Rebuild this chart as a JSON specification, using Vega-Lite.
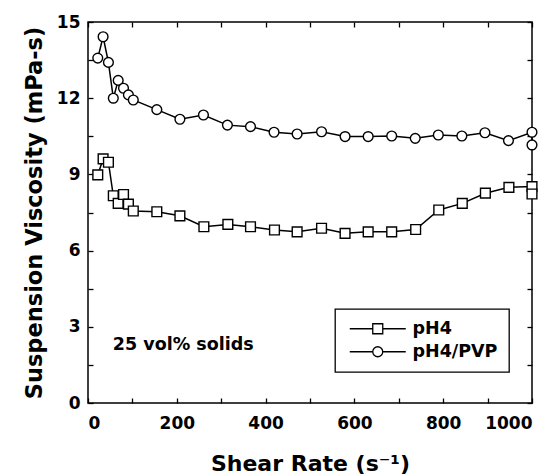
{
  "$schema": "https://vega.github.io/schema/vega-lite/v6.json",
  "width": 444,
  "height": 381,
  "autosize": "none",
  "padding": {"left": 88, "top": 22, "right": 27, "bottom": 72},
  "background": "white",
  "config": {
    "view": {"stroke": "black", "strokeWidth": 1.5},
    "axis": {
      "domain": false, "grid": false,
      "tickColor": "black", "tickWidth": 1.3, "tickSize": -5,
      "labelColor": "black", "labelFont": "DejaVu Sans", "labelFontWeight": "bold", "labelFontSize": 17,
      "titleColor": "black", "titleFont": "DejaVu Sans", "titleFontWeight": "bold", "titleFontSize": 22
    },
    "legend": {"strokeWidth": 1.3}
  },
  "data": {
    "values": [
      {"series": "pH4/PVP", "i": 1, "x": 22, "y": 13.58},
      {"series": "pH4/PVP", "i": 2, "x": 34, "y": 14.42},
      {"series": "pH4/PVP", "i": 3, "x": 46, "y": 13.41},
      {"series": "pH4/PVP", "i": 4, "x": 57, "y": 12.0},
      {"series": "pH4/PVP", "i": 5, "x": 68, "y": 12.7},
      {"series": "pH4/PVP", "i": 6, "x": 80, "y": 12.39},
      {"series": "pH4/PVP", "i": 7, "x": 91, "y": 12.13},
      {"series": "pH4/PVP", "i": 8, "x": 102, "y": 11.93},
      {"series": "pH4/PVP", "i": 9, "x": 155, "y": 11.55},
      {"series": "pH4/PVP", "i": 10, "x": 207, "y": 11.17},
      {"series": "pH4/PVP", "i": 11, "x": 260, "y": 11.34},
      {"series": "pH4/PVP", "i": 12, "x": 314, "y": 10.94},
      {"series": "pH4/PVP", "i": 13, "x": 366, "y": 10.88},
      {"series": "pH4/PVP", "i": 14, "x": 419, "y": 10.66},
      {"series": "pH4/PVP", "i": 15, "x": 471, "y": 10.59},
      {"series": "pH4/PVP", "i": 16, "x": 526, "y": 10.68},
      {"series": "pH4/PVP", "i": 17, "x": 579, "y": 10.49},
      {"series": "pH4/PVP", "i": 18, "x": 631, "y": 10.49},
      {"series": "pH4/PVP", "i": 19, "x": 684, "y": 10.51},
      {"series": "pH4/PVP", "i": 20, "x": 737, "y": 10.42},
      {"series": "pH4/PVP", "i": 21, "x": 789, "y": 10.55},
      {"series": "pH4/PVP", "i": 22, "x": 842, "y": 10.51},
      {"series": "pH4/PVP", "i": 23, "x": 894, "y": 10.64},
      {"series": "pH4/PVP", "i": 24, "x": 947, "y": 10.33},
      {"series": "pH4/PVP", "i": 25, "x": 1000, "y": 10.66},
      {"series": "pH4/PVP", "i": 26, "x": 1000, "y": 10.16},
      {"series": "pH4", "i": 1, "x": 22, "y": 8.98},
      {"series": "pH4", "i": 2, "x": 34, "y": 9.61},
      {"series": "pH4", "i": 3, "x": 46, "y": 9.48},
      {"series": "pH4", "i": 4, "x": 57, "y": 8.16},
      {"series": "pH4", "i": 5, "x": 68, "y": 7.86},
      {"series": "pH4", "i": 6, "x": 80, "y": 8.21},
      {"series": "pH4", "i": 7, "x": 91, "y": 7.83},
      {"series": "pH4", "i": 8, "x": 102, "y": 7.56},
      {"series": "pH4", "i": 9, "x": 155, "y": 7.53},
      {"series": "pH4", "i": 10, "x": 207, "y": 7.37},
      {"series": "pH4", "i": 11, "x": 261, "y": 6.94},
      {"series": "pH4", "i": 12, "x": 315, "y": 7.03},
      {"series": "pH4", "i": 13, "x": 366, "y": 6.94},
      {"series": "pH4", "i": 14, "x": 420, "y": 6.81},
      {"series": "pH4", "i": 15, "x": 471, "y": 6.74},
      {"series": "pH4", "i": 16, "x": 526, "y": 6.88},
      {"series": "pH4", "i": 17, "x": 579, "y": 6.68},
      {"series": "pH4", "i": 18, "x": 631, "y": 6.74},
      {"series": "pH4", "i": 19, "x": 684, "y": 6.74},
      {"series": "pH4", "i": 20, "x": 738, "y": 6.83},
      {"series": "pH4", "i": 21, "x": 790, "y": 7.6},
      {"series": "pH4", "i": 22, "x": 843, "y": 7.86},
      {"series": "pH4", "i": 23, "x": 895, "y": 8.26},
      {"series": "pH4", "i": 24, "x": 948, "y": 8.49},
      {"series": "pH4", "i": 25, "x": 1000, "y": 8.52},
      {"series": "pH4", "i": 26, "x": 1000, "y": 8.23}
    ]
  },
  "layer": [
    {
      "mark": {"type": "line", "color": "black", "strokeWidth": 1.5},
      "encoding": {
        "x": {
          "field": "x", "type": "quantitative",
          "scale": {"domain": [0, 1000], "nice": false, "zero": false},
          "axis": {
            "orient": "bottom",
            "values": [0, 100, 200, 300, 400, 500, 600, 700, 800, 900, 1000],
            "format": "d",
            "labelExpr": "datum.value % 200 === 0 ? datum.label : ''",
            "labelPadding": 17,
            "title": "Shear Rate (s⁻¹)",
            "titlePadding": 22
          }
        },
        "y": {
          "field": "y", "type": "quantitative",
          "scale": {"domain": [0, 15], "nice": false, "zero": false},
          "axis": {
            "orient": "left",
            "values": [0, 1.5, 3, 4.5, 6, 7.5, 9, 10.5, 12, 13.5, 15],
            "labelExpr": "datum.value % 3 === 0 ? datum.label : ''",
            "labelPadding": 13,
            "title": "Suspension Viscosity (mPa-s)",
            "titleFontSize": 22.5,
            "titlePadding": 10
          }
        },
        "detail": {"field": "series"},
        "order": {"field": "i"}
      }
    },
    {
      "mark": {"type": "point", "filled": true, "fill": "white", "stroke": "black", "strokeWidth": 1.4, "size": 95, "opacity": 1},
      "encoding": {
        "x": {
          "field": "x", "type": "quantitative",
          "axis": {
            "orient": "top",
            "values": [0, 100, 200, 300, 400, 500, 600, 700, 800, 900, 1000],
            "labels": false, "title": null
          }
        },
        "y": {
          "field": "y", "type": "quantitative",
          "axis": {
            "orient": "right",
            "values": [0, 1.5, 3, 4.5, 6, 7.5, 9, 10.5, 12, 13.5, 15],
            "labels": false, "title": null
          }
        },
        "shape": {
          "field": "series", "type": "nominal",
          "scale": {"domain": ["pH4", "pH4/PVP"], "range": ["square", "circle"]},
          "legend": null
        }
      }
    },
    {
      "data": {"values": [{"s": "pH4"}, {"s": "pH4/PVP"}]},
      "mark": {"type": "point", "opacity": 0, "filled": false},
      "encoding": {
        "shape": {
          "field": "s", "type": "nominal",
          "scale": {
            "domain": ["pH4", "pH4/PVP"],
            "range": [
              "M-1,-1L1,-1L1,1L-1,1Z M-5.6,0L-1,0 M1,0L5.6,0",
              "M1,0A1,1,0,1,1,-1,0A1,1,0,1,1,1,0Z M-5.6,0L-1,0 M1,0L5.6,0"
            ]
          },
          "legend": {
            "title": null,
            "orient": "none",
            "legendX": 247,
            "legendY": 287,
            "strokeColor": "black",
            "padding": 11,
            "rowPadding": 4,
            "symbolSize": 100,
            "symbolOffset": 23,
            "symbolStrokeColor": "black",
            "symbolFillColor": "white",
            "symbolStrokeWidth": 1.3,
            "symbolOpacity": 1,
            "labelOffset": 26,
            "labelFont": "DejaVu Sans",
            "labelFontWeight": "bold",
            "labelFontSize": 17.5,
            "labelColor": "black"
          }
        }
      }
    },
    {
      "data": {"values": [{"x": 56, "y": 2.09, "label": "25 vol% solids"}]},
      "mark": {"type": "text", "align": "left", "baseline": "alphabetic", "font": "DejaVu Sans", "fontWeight": "bold", "fontSize": 17.5, "color": "black"},
      "encoding": {
        "x": {"field": "x", "type": "quantitative", "axis": null},
        "y": {"field": "y", "type": "quantitative", "axis": null},
        "text": {"field": "label"}
      }
    }
  ],
  "resolve": {
    "axis": {"x": "independent", "y": "independent"},
    "scale": {"shape": "independent"},
    "legend": {"shape": "independent"}
  }
}
